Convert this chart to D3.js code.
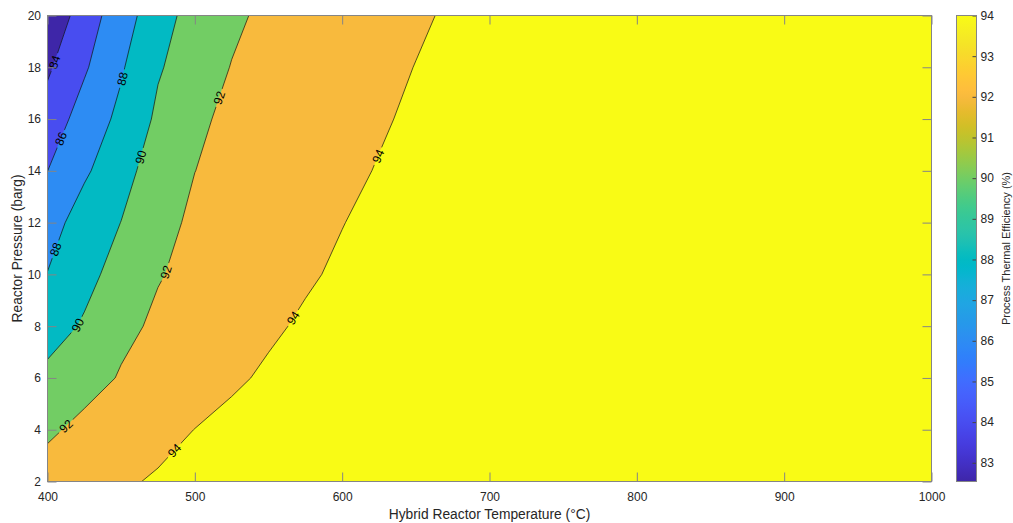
<!DOCTYPE html>
<html>
<head>
<meta charset="utf-8">
<script src="https://cdn.jsdelivr.net/npm/d3@7"></script>
<style>
  body { margin: 0; background: #ffffff; }
  text { font-family: "Liberation Sans", Arial, Helvetica, sans-serif; fill: #262626; }
</style>
</head>
<body>
<svg id="chart" width="1013" height="523"></svg>
<script>
// Grid of process thermal efficiency (%) over reactor temperature (°C) and pressure (barg)
const temperatures = [400, 425, 450, 475, 500, 525, 550, 575, 600, 625, 650, 675, 700, 800, 900, 1000];
const pressures = [2, 4, 6, 8, 10, 12, 14, 16, 18, 20];
// one row per pressure, one column per temperature
const efficiency = [
  [92.90, 93.33, 93.76, 94.19, 94.50, 94.50, 94.50, 94.50, 94.50, 94.50, 94.50, 94.50, 94.50, 94.50, 94.50, 94.50],
  [91.67, 92.50, 92.90, 93.46, 94.02, 94.50, 94.50, 94.50, 94.50, 94.50, 94.50, 94.50, 94.50, 94.50, 94.50, 94.50],
  [90.43, 91.28, 92.14, 92.63, 93.17, 93.72, 94.26, 94.50, 94.50, 94.50, 94.50, 94.50, 94.50, 94.50, 94.50, 94.50],
  [89.23, 90.19, 91.60, 92.27, 92.71, 93.22, 93.73, 94.24, 94.50, 94.50, 94.50, 94.50, 94.50, 94.50, 94.50, 94.50],
  [88.06, 89.50, 90.64, 91.91, 92.38, 92.85, 93.32, 93.79, 94.26, 94.50, 94.50, 94.50, 94.50, 94.50, 94.50, 94.50],
  [87.03, 89.05, 90.02, 91.50, 92.28, 92.61, 93.06, 93.51, 93.96, 94.41, 94.50, 94.50, 94.50, 94.50, 94.50, 94.50],
  [85.99, 87.67, 89.47, 90.73, 91.99, 92.42, 92.83, 93.25, 93.67, 94.08, 94.50, 94.50, 94.50, 94.50, 94.50, 94.50],
  [84.82, 86.85, 88.45, 90.34, 91.81, 92.22, 92.62, 93.03, 93.43, 93.84, 94.24, 94.50, 94.50, 94.50, 94.50, 94.50],
  [83.71, 85.76, 87.80, 89.83, 90.91, 92.07, 92.43, 92.83, 93.23, 93.63, 94.03, 94.43, 94.50, 94.50, 94.50, 94.50],
  [82.54, 84.90, 87.20, 89.02, 90.90, 91.60, 92.46, 92.70, 93.05, 93.42, 93.79, 94.19, 94.50, 94.50, 94.50, 94.50]
];
const contourLevels = [84, 86, 88, 90, 92, 94];
const colorLimits = [82.54, 94];
const xTicks = [400, 500, 600, 700, 800, 900, 1000];
const yTicks = [2, 4, 6, 8, 10, 12, 14, 16, 18, 20];
const colorTicks = [83, 84, 85, 86, 87, 88, 89, 90, 91, 92, 93, 94];
// inline labels: contour level and the pressure at which the label sits on that line
const labelLevels = [84, 86, 88, 88, 90, 90, 92, 92, 92, 94, 94, 94];
const labelPressures = [18.2, 15.24, 17.56, 10.97, 14.53, 8.04, 16.82, 10.09, 4.14, 14.57, 8.32, 3.2];

// parula colormap
const parula = [
  [0.2422,0.1504,0.6603],[0.2504,0.1650,0.7076],[0.2578,0.1818,0.7511],[0.2647,0.1978,0.7952],
  [0.2706,0.2147,0.8364],[0.2751,0.2342,0.8710],[0.2783,0.2559,0.8991],[0.2803,0.2782,0.9221],
  [0.2813,0.3006,0.9414],[0.2810,0.3228,0.9579],[0.2795,0.3447,0.9717],[0.2760,0.3667,0.9829],
  [0.2699,0.3892,0.9906],[0.2602,0.4123,0.9952],[0.2440,0.4358,0.9988],[0.2206,0.4603,0.9973],
  [0.1963,0.4847,0.9892],[0.1834,0.5074,0.9798],[0.1786,0.5289,0.9682],[0.1764,0.5499,0.9520],
  [0.1687,0.5703,0.9359],[0.1540,0.5902,0.9218],[0.1460,0.6091,0.9079],[0.1380,0.6276,0.8973],
  [0.1248,0.6459,0.8883],[0.1113,0.6635,0.8763],[0.0952,0.6798,0.8598],[0.0689,0.6948,0.8394],
  [0.0297,0.7082,0.8163],[0.0036,0.7203,0.7917],[0.0067,0.7312,0.7660],[0.0433,0.7411,0.7394],
  [0.0964,0.7500,0.7120],[0.1408,0.7584,0.6842],[0.1717,0.7670,0.6554],[0.1938,0.7758,0.6251],
  [0.2161,0.7843,0.5923],[0.2470,0.7918,0.5567],[0.2906,0.7973,0.5188],[0.3406,0.8008,0.4789],
  [0.3909,0.8029,0.4354],[0.4456,0.8024,0.3909],[0.5044,0.7993,0.3480],[0.5616,0.7942,0.3045],
  [0.6174,0.7876,0.2612],[0.6720,0.7793,0.2227],[0.7242,0.7698,0.1910],[0.7738,0.7598,0.1646],
  [0.8203,0.7498,0.1535],[0.8634,0.7406,0.1596],[0.9035,0.7330,0.1774],[0.9393,0.7288,0.2100],
  [0.9728,0.7298,0.2394],[0.9956,0.7434,0.2371],[0.9970,0.7659,0.2199],[0.9952,0.7893,0.2028],
  [0.9892,0.8136,0.1885],[0.9786,0.8386,0.1766],[0.9676,0.8639,0.1643],[0.9610,0.8890,0.1537],
  [0.9597,0.9135,0.1423],[0.9628,0.9373,0.1265],[0.9691,0.9606,0.1064],[0.9769,0.9839,0.0805]
];
const parulaHex = parula.map(c => d3.rgb(c[0] * 255, c[1] * 255, c[2] * 255).formatHex());
const parulaScale = d3.scaleLinear()
  .domain(parulaHex.map((_, i) => i / (parulaHex.length - 1)))
  .range(parulaHex)
  .interpolate(d3.interpolateRgb)
  .clamp(true);
const colorOf = v => parulaScale((v - colorLimits[0]) / (colorLimits[1] - colorLimits[0]));

const svg = d3.select("#chart");
const plot = { left: 47.5, right: 931.5, top: 15.5, bottom: 481.5 };
const x = d3.scaleLinear().domain([400, 1000]).range([plot.left, plot.right]);
const y = d3.scaleLinear().domain([2, 20]).range([plot.bottom, plot.top]);

// grid index -> physical coordinates (d3.contours puts samples at cell centres)
const nx = temperatures.length, ny = pressures.length;
const colT = d3.scaleLinear().domain(d3.range(nx)).range(temperatures);
const rowP = d3.scaleLinear().domain(d3.range(ny)).range(pressures);
const toPixel = (gx, gy) => [x(colT(gx - 0.5)), y(rowP(gy - 0.5))];
const path = d3.geoPath(d3.geoTransform({
  point(gx, gy) { const p = toPixel(gx, gy); this.stream.point(p[0], p[1]); }
}));

const bands = d3.contours().size([nx, ny]).thresholds(contourLevels)(efficiency.flat());

const defs = svg.append("defs");
defs.append("clipPath").attr("id", "plot-clip")
  .append("rect")
  .attr("x", plot.left).attr("y", plot.top)
  .attr("width", plot.right - plot.left).attr("height", plot.bottom - plot.top);

// filled bands
const fills = svg.append("g").attr("clip-path", "url(#plot-clip)");
fills.append("rect")
  .attr("x", plot.left).attr("y", plot.top)
  .attr("width", plot.right - plot.left).attr("height", plot.bottom - plot.top)
  .attr("fill", colorOf(d3.min(efficiency.flat())));
fills.selectAll("path.band").data(bands).join("path")
  .attr("class", "band")
  .attr("d", path)
  .attr("fill", d => colorOf(d.value))
  .attr("stroke", d => colorOf(d.value))
  .attr("stroke-width", 0.3);

// label anchors: where each labelled line crosses the chosen pressure
function anchorOn(level, p) {
  const band = bands.find(b => b.value === level);
  const yp = y(p);
  for (const poly of band.coordinates) {
    for (const ring of poly) {
      for (let i = 1; i < ring.length; i++) {
        const a = toPixel(ring[i - 1][0], ring[i - 1][1]);
        const b = toPixel(ring[i][0], ring[i][1]);
        if ((a[1] - yp) * (b[1] - yp) > 0 || a[1] === b[1]) continue;
        const t = (yp - a[1]) / (b[1] - a[1]);
        const xp = a[0] + t * (b[0] - a[0]);
        if (xp <= plot.left + 0.5 || xp >= plot.right - 0.5) continue;
        let ang = Math.atan2(b[1] - a[1], b[0] - a[0]) * 180 / Math.PI;
        if (ang > 90) ang -= 180;
        if (ang <= -90) ang += 180;
        return { x: xp, y: yp, angle: ang, level };
      }
    }
  }
  return null;
}
const anchors = labelLevels.map((lv, i) => anchorOn(lv, labelPressures[i])).filter(Boolean);

const labelFont = 12;
const mask = defs.append("mask").attr("id", "label-gaps")
  .attr("maskUnits", "userSpaceOnUse")
  .attr("x", 0).attr("y", 0).attr("width", 1013).attr("height", 523);
mask.append("rect").attr("width", 1013).attr("height", 523).attr("fill", "white");
mask.selectAll("rect.gap").data(anchors).join("rect")
  .attr("class", "gap")
  .attr("x", -9.5).attr("y", -5).attr("width", 19).attr("height", 10)
  .attr("fill", "black")
  .attr("transform", d => `translate(${d.x},${d.y}) rotate(${d.angle})`);

// contour lines
svg.append("g").attr("clip-path", "url(#plot-clip)")
  .append("g").attr("mask", "url(#label-gaps)")
  .selectAll("path").data(bands).join("path")
  .attr("d", path)
  .attr("fill", "none")
  .attr("stroke", "#111")
  .attr("stroke-width", 0.7);

// contour labels
svg.append("g").selectAll("text").data(anchors).join("text")
  .attr("transform", d => `translate(${d.x},${d.y}) rotate(${d.angle})`)
  .attr("text-anchor", "middle")
  .attr("dy", "0.36em")
  .style("font-size", labelFont + "px")
  .style("fill", "#000")
  .text(d => d.level);

// axes
const axisColor = "#858585";
const tickFont = "12px";
function styleAxis(g) {
  g.select(".domain").remove();
  g.selectAll(".tick line").attr("stroke", axisColor);
  g.selectAll(".tick text").style("font-size", tickFont).style("fill", "#262626")
    .style("font-family", "\"Liberation Sans\", Arial, sans-serif");
}
const fmt = d3.format("d");
svg.append("g").attr("transform", `translate(0,${plot.bottom})`)
  .call(d3.axisBottom(x).tickValues(xTicks).tickFormat(fmt).tickSizeInner(-9).tickSizeOuter(0).tickPadding(10.5))
  .call(styleAxis);
svg.append("g").attr("transform", `translate(0,${plot.top})`)
  .call(d3.axisTop(x).tickValues(xTicks).tickSizeInner(-9).tickSizeOuter(0).tickFormat(""))
  .call(styleAxis);
svg.append("g").attr("transform", `translate(${plot.left},0)`)
  .call(d3.axisLeft(y).tickValues(yTicks).tickFormat(fmt).tickSizeInner(-9).tickSizeOuter(0).tickPadding(6.5))
  .call(styleAxis);
svg.append("g").attr("transform", `translate(${plot.right},0)`)
  .call(d3.axisRight(y).tickValues(yTicks).tickSizeInner(-9).tickSizeOuter(0).tickFormat(""))
  .call(styleAxis);
svg.append("rect")
  .attr("x", plot.left).attr("y", plot.top)
  .attr("width", plot.right - plot.left).attr("height", plot.bottom - plot.top)
  .attr("fill", "none").attr("stroke", axisColor).attr("stroke-width", 1);

// axis titles
svg.append("text")
  .attr("x", (plot.left + plot.right) / 2).attr("y", 519)
  .attr("text-anchor", "middle")
  .style("font-size", "13.8px")
  .text("Hybrid Reactor Temperature (°C)");
svg.append("text")
  .attr("transform", `translate(21.5,${(plot.top + plot.bottom) / 2}) rotate(-90)`)
  .attr("text-anchor", "middle")
  .style("font-size", "13.8px")
  .text("Reactor Pressure (barg)");

// colour bar
const cb = { left: 956.5, right: 976.5, top: plot.top, bottom: plot.bottom };
const grad = defs.append("linearGradient").attr("id", "parula-grad")
  .attr("x1", 0).attr("y1", 1).attr("x2", 0).attr("y2", 0);
grad.selectAll("stop").data(parulaHex).join("stop")
  .attr("offset", (_, i) => i / (parulaHex.length - 1))
  .attr("stop-color", d => d);
svg.append("rect")
  .attr("x", cb.left).attr("y", cb.top)
  .attr("width", cb.right - cb.left).attr("height", cb.bottom - cb.top)
  .attr("fill", "url(#parula-grad)");
const yc = d3.scaleLinear().domain(colorLimits).range([cb.bottom, cb.top]);
svg.append("g").attr("transform", `translate(${cb.right},0)`)
  .call(d3.axisRight(yc).tickValues(colorTicks).tickFormat(fmt).tickSizeInner(-4).tickSizeOuter(0).tickPadding(4))
  .call(g => {
    g.select(".domain").remove();
    g.selectAll(".tick line").attr("stroke", "#444");
    g.selectAll(".tick text").style("font-size", tickFont).style("fill", "#262626")
      .style("font-family", "\"Liberation Sans\", Arial, sans-serif");
  });
svg.append("rect")
  .attr("x", cb.left).attr("y", cb.top)
  .attr("width", cb.right - cb.left).attr("height", cb.bottom - cb.top)
  .attr("fill", "none").attr("stroke", axisColor).attr("stroke-width", 1);
svg.append("text")
  .attr("transform", `translate(1010,${(cb.top + cb.bottom) / 2}) rotate(-90)`)
  .attr("text-anchor", "middle")
  .style("font-size", "11px")
  .text("Process Thermal Efficiency (%)");
</script>
</body>
</html>
